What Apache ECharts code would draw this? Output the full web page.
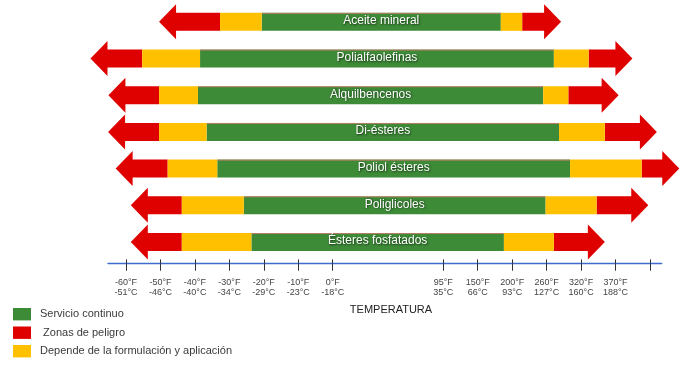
<!DOCTYPE html>
<html>
<head>
<meta charset="utf-8">
<script src="https://cdn.jsdelivr.net/npm/echarts@6/dist/echarts.min.js"></script>
<style>html,body{margin:0;padding:0;background:#fff}#c{width:699px;height:368px}</style>
</head>
<body>
<div id="c"></div>
<script>
// Categories (top to bottom)
var categories = ['Aceite mineral','Polialfaolefinas','Alquilbencenos','Di-ésteres','Poliol ésteres','Poliglicoles','Ésteres fosfatados'];
// Range boundaries in axis-position units (tick index scale)
var dangerLow   = [0.96, -1.03, -0.51, -0.52, -0.30, 0.14, 0.14];
var cautionLow  = [2.73,  0.47,  0.96,  0.96,  1.21, 1.62, 1.62];
var serviceLow  = [3.94,  2.15,  2.09,  2.34,  2.65, 3.42, 3.64];
var serviceHigh = [10.88, 12.42, 12.11, 12.57, 12.89, 12.18, 10.97];
var cautionHigh = [11.50, 13.43, 12.84, 13.90, 14.97, 13.66, 12.42];
var dangerHigh  = [12.63, 14.70, 14.30, 15.41, 16.06, 15.16, 13.90];
// Axis ticks
var tickPos = [0,1,2,3,4,5,6,9.21,10.21,11.21,12.21,13.21,14.21,15.21];
var tickF = ['-60°F','-50°F','-40°F','-30°F','-20°F','-10°F','0°F','95°F','150°F','200°F','260°F','320°F','370°F',''];
var tickC = ['-51°C','-46°C','-40°C','-34°C','-29°C','-23°C','-18°C','35°C','66°C','93°C','127°C','160°C','188°C',''];
var legendNames = ['Servicio continuo',' Zonas de peligro','Depende de la formulación y aplicación'];

var GREEN = '#3d8a37', RED = '#df0000', YELLOW = '#ffc000';
var SHAFT = 18, HEAD_H = 17.5, HEAD_L = 17;

var rows = categories.map(function (c, i) {
  return [i, dangerLow[i], cautionLow[i], serviceLow[i], serviceHigh[i], cautionHigh[i], dangerHigh[i]];
});
var labelPos = tickPos.filter(function (p, i) { return tickF[i] !== ''; });

function pt(api, x, i) { return api.coord([x, i]); }

var chart = echarts.init(document.getElementById('c'), null, {renderer: 'canvas'});
var xMin = -0.522, xMax = 15.55;
chart.setOption({
  animation: false,
  textStyle: {fontFamily: 'Liberation Sans, Arial, sans-serif'},
  grid: {left: 108, right: 37.3, top: 3.5, bottom: 107.65},
  legend: {
    orient: 'vertical', left: 13, top: 308, padding: 0,
    itemWidth: 18, itemHeight: 12.4, itemGap: 6.1, icon: 'rect',
    textStyle: {fontSize: 11, color: '#3a3a3a', padding: [0, 0, 0, 4]},
    data: legendNames
  },
  xAxis: [{
    type: 'value', min: xMin, max: xMax, offset: 3,
    splitLine: {show: false},
    axisLine: {show: true, lineStyle: {color: '#3f6ccc', width: 1.4}},
    axisTick: {show: true, customValues: tickPos, length: 7.4, lineStyle: {color: '#333', width: 1}},
    axisLabel: {
      customValues: labelPos, margin: 14, fontSize: 9, lineHeight: 10, color: '#444',
      formatter: function (v) {
        for (var i = 0; i < tickPos.length; i++) if (Math.abs(tickPos[i] - v) < 1e-6) return tickF[i] + '\n' + tickC[i];
        return '';
      }
    }
  }, {
    type: 'value', min: xMin, max: xMax, offset: 3, position: 'bottom',
    splitLine: {show: false},
    axisLine: {show: false},
    axisTick: {show: true, inside: true, customValues: tickPos, length: 4, lineStyle: {color: '#333', width: 1}},
    axisLabel: {show: false}
  }],
  yAxis: {type: 'category', inverse: true, data: categories, show: false},
  graphic: [{
    type: 'text', x: 391, y: 310,
    style: {text: 'TEMPERATURA', fill: '#222', font: '11px Liberation Sans, Arial, sans-serif', textAlign: 'center', textVerticalAlign: 'middle'}
  }],
  series: [{
    name: legendNames[0], type: 'custom', clip: false, itemStyle: {color: GREEN},
    data: rows,
    renderItem: function (params, api) {
      var i = api.value(0);
      var a = pt(api, api.value(3), i), b = pt(api, api.value(4), i);
      var yc = a[1];
      return {
        type: 'group', children: [
          {type: 'rect', shape: {x: a[0], y: yc - SHAFT / 2, width: b[0] - a[0], height: SHAFT}, style: {fill: GREEN}},
          {type: 'line', shape: {x1: a[0], y1: yc - SHAFT / 2 + 0.5, x2: b[0], y2: yc - SHAFT / 2 + 0.5}, style: {stroke: 'rgba(240,120,120,0.7)', lineWidth: 1}},
          {type: 'text', x: (a[0] + b[0]) / 2, y: yc - 1,
            style: {text: categories[i], fill: '#fff', font: '12px Liberation Sans, Arial, sans-serif', textAlign: 'center', textVerticalAlign: 'middle',
              textShadowColor: 'rgba(0,0,0,0.65)', textShadowBlur: 2, textShadowOffsetX: 0.8, textShadowOffsetY: 0.8}}
        ]
      };
    }
  }, {
    name: legendNames[1], type: 'custom', clip: false, itemStyle: {color: RED},
    data: rows,
    renderItem: function (params, api) {
      var i = api.value(0);
      var t0 = pt(api, api.value(1), i), r0 = pt(api, api.value(2), i);
      var r1 = pt(api, api.value(5), i), t1 = pt(api, api.value(6), i);
      var yc = t0[1], h = SHAFT / 2;
      var lb = t0[0] + HEAD_L, rb = t1[0] - HEAD_L;
      return {
        type: 'group', children: [
          {type: 'polygon', shape: {points: [[t0[0], yc], [lb, yc - HEAD_H], [lb, yc - h], [r0[0], yc - h], [r0[0], yc + h], [lb, yc + h], [lb, yc + HEAD_H]]}, style: {fill: RED}},
          {type: 'polygon', shape: {points: [[t1[0], yc], [rb, yc - HEAD_H], [rb, yc - h], [r1[0], yc - h], [r1[0], yc + h], [rb, yc + h], [rb, yc + HEAD_H]]}, style: {fill: RED}}
        ]
      };
    }
  }, {
    name: legendNames[2], type: 'custom', clip: false, itemStyle: {color: YELLOW},
    data: rows,
    renderItem: function (params, api) {
      var i = api.value(0);
      var c0 = pt(api, api.value(2), i), s0 = pt(api, api.value(3), i);
      var s1 = pt(api, api.value(4), i), c1 = pt(api, api.value(5), i);
      var yc = c0[1];
      return {
        type: 'group', children: [
          {type: 'rect', shape: {x: c0[0], y: yc - SHAFT / 2, width: s0[0] - c0[0], height: SHAFT}, style: {fill: YELLOW}},
          {type: 'rect', shape: {x: s1[0], y: yc - SHAFT / 2, width: c1[0] - s1[0], height: SHAFT}, style: {fill: YELLOW}}
        ]
      };
    }
  }]
});
</script>
</body>
</html>
